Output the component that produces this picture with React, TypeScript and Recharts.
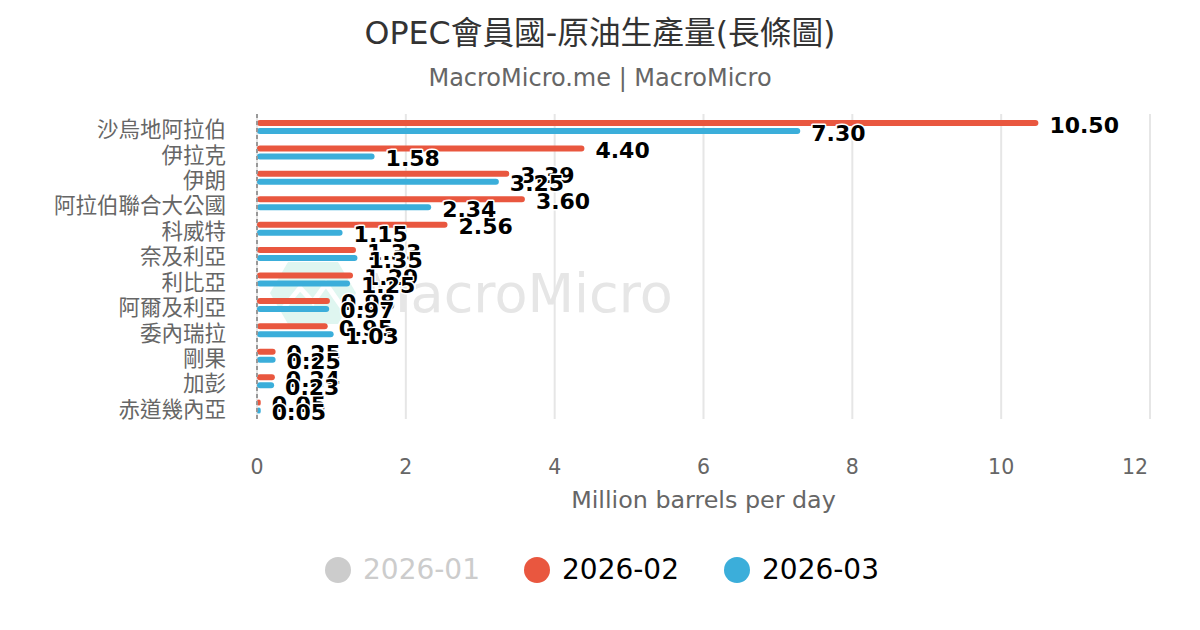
import React from 'react';
import { BarChart, Bar, XAxis, YAxis, CartesianGrid, ReferenceLine, LabelList } from 'recharts';

const categories = ['沙烏地阿拉伯', '伊拉克', '伊朗', '阿拉伯聯合大公國', '科威特', '奈及利亞', '利比亞', '阿爾及利亞', '委內瑞拉', '剛果', '加彭', '赤道幾內亞'];
const feb2026 = [10.5, 4.4, 3.39, 3.6, 2.56, 1.33, 1.29, 0.98, 0.95, 0.25, 0.24, 0.05];
const mar2026 = [7.3, 1.58, 3.25, 2.34, 1.15, 1.35, 1.25, 0.97, 1.03, 0.25, 0.23, 0.05];
const xTicks = [0, 2, 4, 6, 8, 10, 12];
const legendItems = [
  { name: '2026-01', color: '#cccccc', text: '#cccccc', x: 325 },
  { name: '2026-02', color: '#e9573f', text: '#000000', x: 524 },
  { name: '2026-03', color: '#3baeda', text: '#000000', x: 724 },
];

const data = categories.map((name, i) => ({ name, feb: feb2026[i], mar: mar2026[i] }));

const FONT = '"DejaVu Sans", "Noto Sans CJK TC", sans-serif';

const renderLabel = (props: any) => {
  const { x, y, width, height, value } = props;
  return (
    <text
      x={Number(x) + Number(width) + 11}
      y={Number(y) + Number(height) / 2 + 2}
      dominantBaseline="central"
      fontFamily={FONT}
      fontSize={22}
      fontWeight="bold"
      fill="#000"
      stroke="#fff"
      strokeWidth={3}
      strokeLinejoin="round"
      paintOrder="stroke"
    >
      {Number(value).toFixed(2)}
    </text>
  );
};

const XTick = (props: any) => {
  const { x, y, payload, index, visibleTicksCount } = props;
  const isLast = index === (visibleTicksCount ?? xTicks.length) - 1;
  return (
    <text
      x={isLast ? Number(x) - 2 : x}
      y={Number(y) + 46}
      textAnchor={isLast ? 'end' : 'middle'}
      dominantBaseline="central"
      fontFamily={FONT}
      fontSize={20.5}
      fill="#666"
    >
      {payload.value}
    </text>
  );
};

const YTick = (props: any) => {
  const { y, payload } = props;
  return (
    <text x={226} y={Number(y) + 3} textAnchor="end" dominantBaseline="central" fontFamily={FONT} fontSize={21.5} fill="#666">
      {payload.value}
    </text>
  );
};

export default function App() {
  return (
    <div style={{ position: 'fixed', left: 0, top: 0, width: 1200, height: 630, background: '#fff', fontFamily: FONT, overflow: 'hidden' }}>
      {/* watermark */}
      <div style={{ position: 'absolute', left: 268, top: 258, width: 440, height: 70, display: 'flex', alignItems: 'center' }}>
        <svg width={90} height={70} viewBox="0 0 90 70">
          <polygon points="20,4 70,4 88,35 70,66 20,66 2,35" fill="#dff6f0" />
          <polyline points="14,52 32,30 45,44 58,26 76,52" fill="none" stroke="#ffffff" strokeWidth={5} />
        </svg>
        <span style={{ fontSize: 54, color: '#e6e6e6', marginLeft: 6, fontFamily: FONT }}>MacroMicro</span>
      </div>
      <div style={{ position: 'absolute', left: 0, top: 11, width: 1200, textAlign: 'center', fontSize: 31.7, color: '#333', lineHeight: '44px' }}>
        OPEC會員國-原油生產量(長條圖)
      </div>
      <div style={{ position: 'absolute', left: 0, top: 62, width: 1200, textAlign: 'center', fontSize: 24, color: '#666', lineHeight: '32px' }}>
        MacroMicro.me | MacroMicro
      </div>
      <div style={{ position: 'absolute', left: 0, top: 0 }}>
        <BarChart
          width={1200}
          height={630}
          data={data}
          layout="vertical"
          margin={{ top: 114, right: 50, bottom: 111, left: 0 }}
          barSize={6}
          barGap={2}
        >
          <CartesianGrid horizontal={false} stroke="#e6e6e6" strokeWidth={2} />
          <XAxis
            type="number"
            domain={[0, 12]}
            ticks={xTicks}
            height={100}
            axisLine={false}
            tickLine={false}
            tickSize={0}
            tick={<XTick />}
            interval={0}
            label={(p: any) => {
              const vb = p.viewBox || {};
              return (
                <text x={Number(vb.x) + Number(vb.width) / 2} y={500} textAnchor="middle" dominantBaseline="central" fontFamily={FONT} fontSize={23.8} fill="#666">
                  Million barrels per day
                </text>
              );
            }}
          />
          <YAxis
            type="category"
            dataKey="name"
            width={257}
            axisLine={false}
            tickLine={false}
            tickSize={0}
            tick={<YTick />}
            interval={0}
          />
          <ReferenceLine x={0} stroke="#999" strokeWidth={2} strokeDasharray="4 3" />
          <Bar dataKey="feb" name="2026-02" fill="#e9573f" radius={3} isAnimationActive={false}>
            <LabelList dataKey="feb" content={renderLabel} />
          </Bar>
          <Bar dataKey="mar" name="2026-03" fill="#3baeda" radius={3} isAnimationActive={false}>
            <LabelList dataKey="mar" content={renderLabel} />
          </Bar>
        </BarChart>
      </div>
      {legendItems.map((it) => (
        <div key={it.name} style={{ position: 'absolute', left: it.x, top: 551, height: 38, display: 'flex', alignItems: 'center' }}>
          <span style={{ display: 'inline-block', width: 26, height: 26, borderRadius: 13, background: it.color }} />
          <span style={{ marginLeft: 12, fontSize: 28, color: it.text, lineHeight: '38px' }}>{it.name}</span>
        </div>
      ))}
    </div>
  );
}
